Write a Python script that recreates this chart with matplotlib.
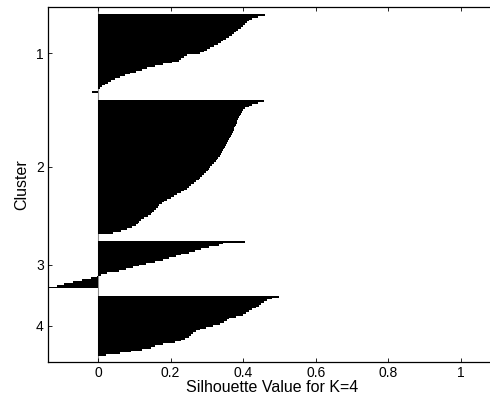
import numpy as np
import matplotlib
matplotlib.use("Agg")
import matplotlib.pyplot as plt

plt.rcParams["font.family"] = ["Liberation Sans", "DejaVu Sans"]

# silhouette values per cluster, sorted high -> low
cluster_names = ["1", "2", "3", "4"]
sil_1 = [0.46, 0.44, 0.425, 0.415, 0.41, 0.405, 0.40, 0.393, 0.387, 0.381,
         0.376, 0.368, 0.36, 0.352, 0.345, 0.338, 0.33, 0.32, 0.31, 0.30,
         0.292, 0.28, 0.245, 0.238, 0.23, 0.222, 0.205, 0.18, 0.157, 0.136,
         0.12, 0.104, 0.088, 0.074, 0.06, 0.048, 0.037, 0.027, 0.02, 0.012,
         0.006, 0.001, -0.017]
sil_2 = [0.458, 0.44, 0.425, 0.415, 0.405, 0.40, 0.397, 0.394, 0.391, 0.388,
         0.386, 0.384, 0.382, 0.38, 0.378, 0.376, 0.374, 0.372, 0.369, 0.366,
         0.363, 0.361, 0.358, 0.355, 0.353, 0.35, 0.347, 0.344, 0.341, 0.338,
         0.335, 0.332, 0.329, 0.325, 0.32, 0.315, 0.31, 0.306, 0.302, 0.297,
         0.292, 0.287, 0.282, 0.277, 0.271, 0.264, 0.257, 0.25, 0.244, 0.237,
         0.228, 0.218, 0.209, 0.20, 0.191, 0.182, 0.175, 0.169, 0.164, 0.16,
         0.155, 0.15, 0.145, 0.138, 0.128, 0.118, 0.112, 0.109, 0.105, 0.094,
         0.08, 0.063, 0.042]
sil_3 = [0.405, 0.345, 0.333, 0.305, 0.285, 0.268, 0.25, 0.23, 0.215, 0.197,
         0.18, 0.158, 0.132, 0.112, 0.095, 0.078, 0.058, 0.025, 0.008, -0.004,
         -0.02, -0.045, -0.07, -0.095, -0.112, -0.138]
sil_4 = [0.50, 0.48, 0.465, 0.457, 0.45, 0.443, 0.435, 0.425, 0.415, 0.407,
         0.40, 0.38, 0.362, 0.355, 0.348, 0.335, 0.318, 0.298, 0.28, 0.27,
         0.262, 0.257, 0.25, 0.24, 0.228, 0.212, 0.18, 0.158, 0.145, 0.12,
         0.09, 0.06, 0.022]
clusters = [sil_1, sil_2, sil_3, sil_4]

x_ticks = [0, 0.2, 0.4, 0.6, 0.8, 1]
x_tick_labels = ["0", "0.2", "0.4", "0.6", "0.8", "1"]

GAP = 4  # empty rows between clusters

fig = plt.figure(figsize=(4.9, 3.95), dpi=100)
ax = fig.add_axes([48 / 490, 1 - 361.7 / 395, 449 / 490, 354.4 / 395])

# gray baseline at zero, under the bars
ax.axvline(0, color="0.55", lw=0.8, zorder=0)

start = 0
centers = []
for vals in clusters:
    y = start + np.arange(len(vals)) + 0.5
    ax.barh(y, vals, height=1.0, color="k", edgecolor="none", linewidth=0,
            antialiased=False, zorder=2)
    centers.append(start + len(vals) / 2)
    start += len(vals) + GAP
total = start - GAP

ax.set_xlim(min(min(v) for v in clusters), 1.1)
ax.set_ylim(total + 3.1, -3.7)

ax.set_xticks(x_ticks)
ax.set_xticklabels(x_tick_labels)
ax.set_yticks(centers)
ax.set_yticklabels(cluster_names)
ax.tick_params(direction="in", length=3, width=0.6, labelsize=10,
               top=True, right=True, colors="k", pad=3)

for s in ax.spines.values():
    s.set_linewidth(0.9)
    s.set_color("k")

ax.set_xlabel("Silhouette Value for K=4", fontsize=11.5, labelpad=0)
ax.set_ylabel("Cluster", fontsize=11.5, labelpad=5)

fig.savefig("out.png", dpi=100)
